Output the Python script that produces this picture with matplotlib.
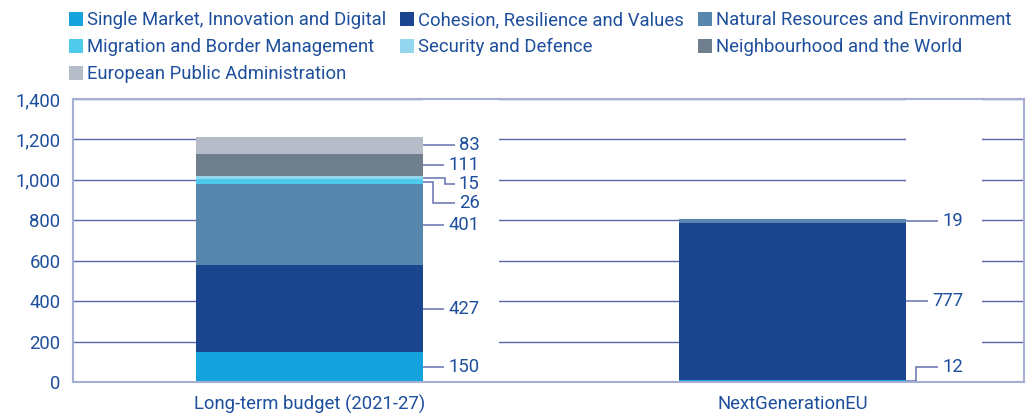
import matplotlib
matplotlib.use("Agg")
import matplotlib.pyplot as plt
from matplotlib.patches import Rectangle, Patch

plt.rcParams['font.family'] = ['Roboto', 'DejaVu Sans']

categories = ["Long-term budget (2021-27)", "NextGenerationEU"]
series_names = [
    "Single Market, Innovation and Digital",
    "Cohesion, Resilience and Values",
    "Natural Resources and Environment",
    "Migration and Border Management",
    "Security and Defence",
    "Neighbourhood and the World",
    "European Public Administration",
]
budget_values = [150, 427, 401, 26, 15, 111, 83]
ngeu_values = [12, 777, 19, 0, 0, 0, 0]
yticks = [0, 200, 400, 600, 800, 1000, 1200, 1400]
ytick_labels = ["0", "200", "400", "600", "800", "1,000", "1,200", "1,400"]

colors = ["#14a3dc", "#1b468f", "#5787ad", "#4fc9ec", "#93d7ee", "#6f7f8e", "#b7bdc8"]
TXT = "#1d4f9c"
GRID = "#5867a8"
SPINE = "#a5aed3"
LEADER = "#6472b0"
FS = 13.3

W, H = 1032, 415
fig = plt.figure(figsize=(W / 100, H / 100), dpi=100)
ax_l, ax_r, ax_b, ax_t = 73, 1024, 382, 99
ax = fig.add_axes([ax_l / W, 1 - ax_b / H, (ax_r - ax_l) / W, (ax_b - ax_t) / H])

xmin, xmax = -0.4886, 1.478
ax.set_xlim(xmin, xmax)
ax.set_ylim(0, 1400)
px = (xmax - xmin) / (ax_r - ax_l)  # data units per pixel (x)

bar_w = 0.469
data = [budget_values, ngeu_values]
for i, vals in enumerate(data):
    bottom = 0
    for j, v in enumerate(vals):
        if v > 0:
            ax.bar(i, v, width=bar_w, bottom=bottom, color=colors[j], zorder=2, linewidth=0)
        bottom += v

# white strip behind labels (hides gridlines)
for i in range(len(categories)):
    edge = i + bar_w / 2
    ax.add_patch(Rectangle((edge, 3), 76 * px, 1392, facecolor="white", edgecolor="none", zorder=1))

# labels with leader lines
min_y = 75
gap = 94
for i, vals in enumerate(data):
    edge = i + bar_w / 2
    mids = []
    bottom = 0
    for v in vals:
        mids.append(bottom + v / 2)
        bottom += v
    items = [(mids[j], vals[j]) for j in range(len(vals)) if vals[j] > 0]
    ys = []
    prev = None
    for mid, v in reversed(items):
        y = max(mid, min_y)
        if prev is not None:
            y = min(y, prev - gap)
        ys.append((mid, y, v))
        prev = y
    label_r = edge + 57 * px
    for k, (mid, y, v) in enumerate(ys):
        txt = f"{v}"
        tw = 10.5 * len(txt)
        line_end = label_r - (tw + 4) * px
        if abs(mid - y) < 1:
            ax.plot([edge, line_end], [mid, mid], color=LEADER, lw=1.1, zorder=3, solid_capstyle="butt")
        else:
            ex = edge + (22 if v == 15 else 10) * px
            ax.plot([edge, ex, ex, line_end], [mid, mid, y, y], color=LEADER, lw=1.1, zorder=3,
                    solid_capstyle="butt", solid_joinstyle="miter")
        ax.text(label_r, y, txt, ha="right", va="center", fontsize=FS, color=TXT, zorder=4)

ax.set_yticks(yticks)
ax.set_yticklabels(ytick_labels)
ax.set_xticks(range(len(categories)))
ax.set_xticklabels(categories)
ax.tick_params(axis="both", length=0, labelsize=FS, labelcolor=TXT)
ax.tick_params(axis="y", pad=9)
ax.tick_params(axis="x", pad=9)
ax.yaxis.grid(True, color=GRID, lw=1.0, zorder=0)
ax.set_axisbelow(True)
for s in ax.spines.values():
    s.set_color(SPINE)
    s.set_linewidth(1.5)
    s.set_zorder(5)

order = [0, 3, 6, 1, 4, 2, 5]
handles = [Patch(facecolor=colors[k], edgecolor="none") for k in order]
labels = [series_names[k] for k in order]
fig.legend(handles, labels, ncol=3, loc="upper left", bbox_to_anchor=(69 / W, 1 - 11 / H),
           frameon=False, fontsize=FS, labelcolor=TXT, handlelength=0.78, handleheight=0.78,
           handletextpad=0.22, columnspacing=0.72, labelspacing=0.5, borderpad=0, borderaxespad=0)

fig.savefig("out.png", dpi=100)
